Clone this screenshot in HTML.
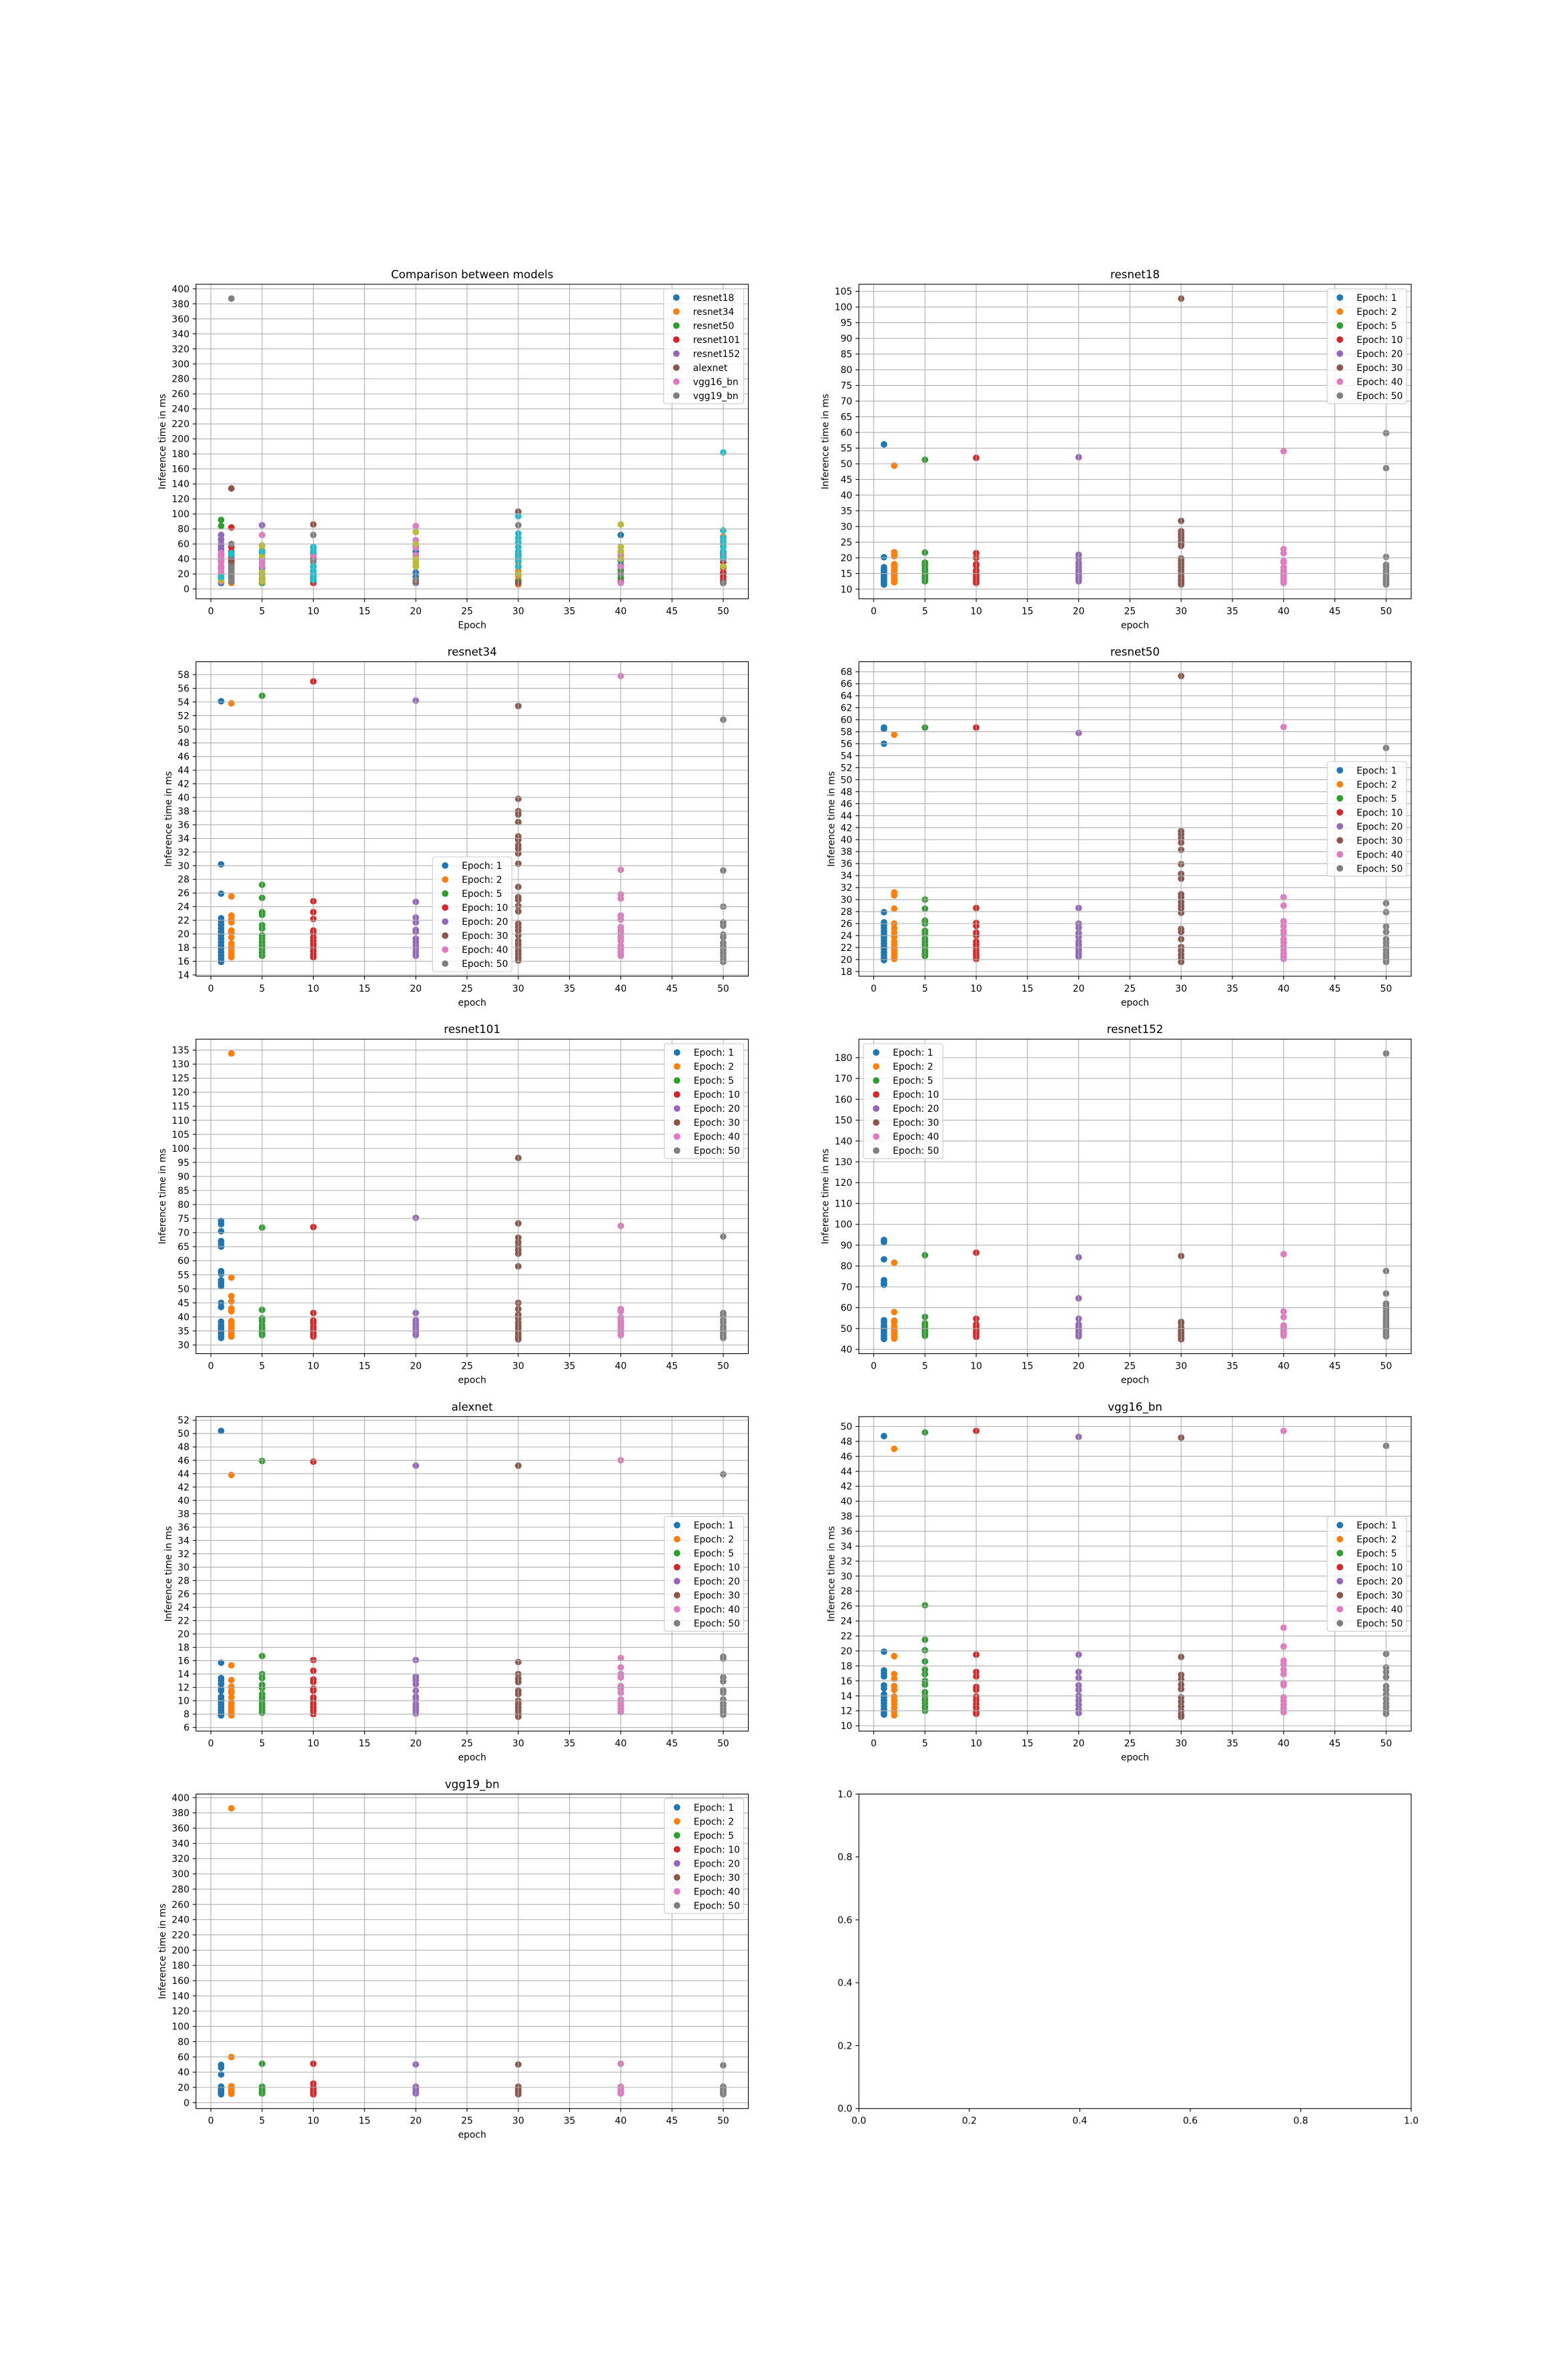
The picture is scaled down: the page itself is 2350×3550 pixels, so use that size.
<!DOCTYPE html>
<html><head><meta charset="utf-8">
<style>
html,body{margin:0;padding:0;background:#fff;}
svg{display:block;font-family:"DejaVu Sans","Liberation Sans",sans-serif;}
</style></head>
<body>
<svg id="fig" width="2350" height="3550" viewBox="0 0 2350 3550" xmlns="http://www.w3.org/2000/svg">
<rect x="0" y="0" width="2350" height="3550" fill="#fff"/>
</svg>
<script>
const epochs = [1, 2, 5, 10, 20, 30, 40, 50];
const epochLabels = ["Epoch: 1","Epoch: 2","Epoch: 5","Epoch: 10","Epoch: 20","Epoch: 30","Epoch: 40","Epoch: 50"];
const modelNames = ["resnet18","resnet34","resnet50","resnet101","resnet152","alexnet","vgg16_bn","vgg19_bn"];
const xTicks = [0,5,10,15,20,25,30,35,40,45,50];

const resnet18 = [
 [56.2,20.2,17,16.5,16,15.5,15,14.5,14,13.5,13,12.5,12,11.5],
 [49.4,21.8,21,20.5,18,17.5,17,16.5,16,15.5,15,14.5,14,13.5,13,12.5,12.2],
 [51.3,21.7,18.5,18,17.5,16.5,16,15,14.5,14,13.5,13,12.5],
 [51.9,21.5,20,18,17.5,16,15.5,14.5,14,13.5,13,12.5,12],
 [52.1,21,20,18.5,18,17,16,15.5,15,14.5,14,13.5,13,12.5],
 [102.7,31.8,28.5,27.5,26.5,25.5,24.5,23.8,19.8,19,18,17,16,15,14,13,12.5,12,11.5],
 [54,22.8,21.5,19,18.5,17,16,15.5,15,14.5,14,13.5,13,12.5,12],
 [59.8,48.6,20.3,17.8,17,16,15.5,15,14.5,14,13.5,13,12.5,12,11.5]];
const resnet18Ticks = [10,15,20,25,30,35,40,45,50,55,60,65,70,75,80,85,90,95,100,105];

const resnet34 = [
 [54.1,30.2,25.9,22.3,21.8,21.3,20.8,20.3,19.8,19.3,18.8,18.3,17.8,17.3,16.8,16.3,15.9],
 [53.8,25.5,22.7,22.2,21.7,20.5,20.2,19.5,18.6,18.1,17.6,17.1,16.6],
 [54.9,27.2,25.3,23.2,22.8,21.3,20.8,19.8,19.3,18.8,18.3,17.8,17.3,16.8],
 [57.0,24.8,23.2,22.2,20.5,20.1,19.5,19.0,18.5,18.0,17.5,17.0,16.6],
 [54.2,24.7,22.4,21.7,20.6,20.3,19.3,18.8,18.3,17.8,17.3,16.8],
 [53.4,39.8,38.0,37.5,36.4,34.3,33.8,33.0,32.5,31.8,30.3,26.9,25.4,25.0,24.1,23.3,21.5,21.0,20.5,19.8,19.0,18.5,18.0,17.5,17.0,16.5,16.1],
 [57.8,29.4,25.8,25.2,22.7,22.1,21.0,20.5,20.0,19.5,19.0,18.3,17.8,17.3,16.8],
 [51.4,29.3,24.0,21.7,21.2,19.9,19.5,18.7,18.2,17.7,17.2,16.7,16.2,15.9]];
const resnet34Ticks = [14,16,18,20,22,24,26,28,30,32,34,36,38,40,42,44,46,48,50,52,54,56,58];

const resnet50 = [
 [58.7,58.5,56.0,27.9,26.2,25.7,25.2,24.7,24.2,23.7,23.2,22.7,22.2,21.7,21.2,20.7,20.2,19.9],
 [57.5,31.2,30.7,28.5,26.0,25.2,24.5,23.8,23.0,22.5,22.0,21.5,21.0,20.5,20.1],
 [58.7,30.0,28.5,26.5,26.0,24.8,24.3,23.5,23.0,22.5,22.0,21.5,21.0,20.6],
 [58.7,28.6,26.1,25.6,24.5,24.0,23.0,22.5,22.0,21.5,21.0,20.5,20.1],
 [57.8,28.6,26.0,25.3,24.4,23.8,23.0,22.5,22.0,21.5,21.0,20.5],
 [67.3,41.4,40.9,40.2,39.5,38.3,35.9,34.3,33.5,30.9,30.4,29.6,29.0,28.5,27.8,25.1,24.6,23.4,22.1,21.5,20.8,20.2,19.6],
 [58.8,30.4,29.0,26.4,25.6,24.8,24.2,23.4,22.8,22.2,21.6,21.0,20.5,20.1],
 [55.3,29.4,27.9,25.5,24.6,23.4,22.8,22.2,21.6,21.0,20.5,20.0,19.6]];
const resnet50Ticks = [18,20,22,24,26,28,30,32,34,36,38,40,42,44,46,48,50,52,54,56,58,60,62,64,66,68];

const resnet101 = [
 [74.2,73.0,70.5,67.0,66.0,65.0,56.3,55.3,53.0,52.0,51.0,45.0,43.5,38.3,37.0,36.0,35.0,34.0,33.0,32.5],
 [133.8,54.0,47.4,45.5,43.0,42.0,38.5,37.5,36.5,35.5,34.5,33.5,33.0],
 [71.8,42.5,39.5,38.5,37.0,36.0,35.0,34.0,33.5],
 [72.0,41.4,38.7,37.8,36.5,35.5,34.5,33.5,33.0],
 [75.3,41.4,38.8,37.5,36.5,35.5,34.5,33.5],
 [96.6,73.3,68.2,66.5,65.0,63.8,62.5,58.0,45.0,42.8,40.8,39.5,38.0,37.0,36.0,35.0,34.0,33.0,32.5,32.0],
 [72.4,42.8,42.0,39.8,38.5,37.5,36.5,35.5,34.5,33.5],
 [68.6,41.4,40.5,39.0,38.0,36.5,35.5,34.5,33.5,33.0,32.5]];
const resnet101Ticks = [30,35,40,45,50,55,60,65,70,75,80,85,90,95,100,105,110,115,120,125,130,135];

const resnet152 = [
 [92.5,91.5,83.2,73.2,72.0,71.0,54.0,53.0,51.5,50.5,49.5,48.5,47.5,46.5,45.5,45.0],
 [81.6,57.9,53.8,53.0,51.0,50.0,49.0,48.0,47.0,46.0,45.2],
 [85.2,55.6,52.5,51.5,50.5,49.5,48.5,47.5,46.5],
 [86.4,54.7,52.0,51.0,50.0,49.0,48.0,47.0,46.0],
 [84.2,64.5,54.7,52.0,51.0,50.0,49.0,48.0,47.0,46.2],
 [84.8,53.2,52.5,50.5,49.5,48.5,47.5,46.5,45.5,44.8],
 [85.7,58.2,55.5,51.5,50.5,49.5,48.5,47.5,46.5],
 [182.0,77.6,66.8,62.0,61.0,59.5,58.0,56.5,55.0,54.0,53.0,52.0,51.0,50.0,49.0,48.0,47.0,46.2]];
const resnet152Ticks = [40,50,60,70,80,90,100,110,120,130,140,150,160,170,180];

const alexnet = [
 [50.4,15.7,13.4,13.0,12.5,11.8,11.5,10.6,10.2,9.8,9.4,9.0,8.6,8.2,7.8],
 [43.8,15.3,13.1,12.1,11.5,11.2,10.5,9.7,9.3,8.9,8.5,8.1,7.8],
 [45.9,16.7,14.0,13.4,12.4,11.9,11.0,10.5,10.0,9.5,9.0,8.6,8.2],
 [45.8,16.1,14.5,13.2,12.8,11.8,11.5,10.5,10.0,9.5,9.0,8.5,8.0],
 [45.2,16.1,13.6,13.1,12.5,11.5,10.6,10.2,9.5,9.0,8.5,8.1],
 [45.2,15.8,14.0,13.3,12.8,11.5,11.0,10.0,9.5,9.0,8.5,8.0,7.6],
 [46.0,16.4,15.0,14.0,13.5,12.2,11.8,11.2,10.2,9.8,9.3,8.8,8.3],
 [43.9,16.6,16.3,13.5,12.9,11.6,11.2,10.2,9.6,9.2,8.7,8.3,7.9]];
const alexnetTicks = [6,8,10,12,14,16,18,20,22,24,26,28,30,32,34,36,38,40,42,44,46,48,50,52];

const vgg16 = [
 [48.7,19.9,17.4,17.0,16.6,15.4,15.0,14.2,13.8,13.4,13.0,12.6,12.2,11.8,11.5],
 [47.0,19.3,16.9,16.3,15.3,14.8,13.9,13.4,12.9,12.4,11.9,11.4],
 [49.2,26.1,21.5,20.1,18.6,17.5,16.9,16.0,15.5,14.5,14.0,13.5,13.0,12.5,12.0],
 [49.4,19.5,17.2,16.6,15.2,14.8,13.9,13.4,12.9,12.4,11.9,11.6],
 [48.6,19.5,17.2,16.4,15.4,14.8,14.0,13.4,12.8,12.2,11.7],
 [48.5,19.2,16.8,16.2,15.5,14.9,13.8,13.2,12.6,12.0,11.5,11.2],
 [49.4,23.1,20.6,18.7,18.2,17.5,16.9,15.7,15.4,13.8,13.3,12.8,12.3,11.8],
 [47.4,19.6,17.8,17.2,16.5,15.3,14.8,14.2,13.6,13.0,12.5,12.0,11.6]];
const vgg16Ticks = [10,12,14,16,18,20,22,24,26,28,30,32,34,36,38,40,42,44,46,48,50];

const vgg19 = [
 [49.5,46.0,37.0,21.0,19.0,17.0,15.0,13.0,11.0],
 [386.0,59.8,21.5,19.0,17.0,15.0,13.0,11.5],
 [51.0,21.0,19.0,17.0,15.0,13.0,12.0],
 [51.0,25.0,20.0,18.0,16.0,14.0,12.0,11.0],
 [50.0,21.0,19.0,17.0,15.0,13.0,12.0],
 [50.0,21.0,19.0,17.0,15.0,13.0,11.0],
 [51.0,21.0,19.0,17.0,15.0,13.0,12.0],
 [49.0,21.0,19.0,17.0,15.0,13.0,11.0]];
const bigTicks = [0,20,40,60,80,100,120,140,160,180,200,220,240,260,280,300,320,340,360,380,400];

// comparison plot: [epoch, ms] pairs per series
const cmpResnet18 = [[1,8],[1,14],[1,20],[1,28],[1,36],[1,45],[2,10],[2,16],[2,22],[5,12],[5,20],[5,28],[5,48],[10,12],[10,20],[10,30],[10,40],[10,50],[20,10],[20,16],[20,22],[20,30],[20,40],[20,50],[20,57],[30,12],[30,20],[30,30],[30,40],[40,15],[40,25],[40,32],[40,38],[40,45],[40,72],[50,12],[50,20],[50,30]];
const cmpResnet34 = [[1,10],[1,18],[2,8],[2,14],[2,40],[2,46],[5,15],[10,10],[10,18],[10,50],[20,12],[30,6],[30,12],[30,18],[30,24],[30,30],[30,36],[30,44],[30,50],[40,10],[50,30],[50,36],[50,42],[50,50],[50,58],[50,64],[50,70]];
const cmpResnet50 = [[1,40],[1,46],[1,52],[1,58],[1,66],[1,72],[1,84],[1,92],[2,20],[5,8],[5,14],[5,45],[10,15],[20,45],[30,10],[40,10],[40,15],[40,20],[40,25],[40,30],[40,40],[40,50],[50,20]];
const cmpResnet101 = [[1,20],[1,30],[2,30],[2,38],[2,44],[2,50],[2,56],[2,82],[5,40],[10,8],[10,12],[10,40],[10,46],[20,40],[30,20],[30,30],[40,30],[50,10],[50,16],[50,22],[50,28],[50,36],[50,42],[50,48]];
const cmpResnet152 = [[1,30],[1,38],[1,46],[1,54],[1,60],[1,66],[1,72],[2,35],[5,45],[5,52],[5,58],[5,85],[10,45],[20,8],[20,45],[30,45],[40,45],[50,45]];
const cmpAlexnet = [[1,10],[2,28],[2,32],[2,36],[2,40],[2,134],[5,10],[10,40],[10,48],[10,55],[10,86],[20,10],[30,8],[30,40],[30,46],[30,103],[40,10],[50,8]];
const cmpVgg16 = [[1,10],[1,14],[1,18],[1,22],[1,26],[1,30],[1,36],[1,42],[1,48],[5,30],[5,35],[5,40],[5,72],[10,45],[20,45],[20,55],[20,65],[20,84],[30,40],[40,8],[40,30],[40,45],[50,40]];
const cmpVgg19 = [[1,12],[2,10],[2,14],[2,18],[2,22],[2,26],[2,30],[2,60],[2,387],[5,12],[10,30],[10,36],[10,72],[20,12],[30,30],[30,44],[30,85],[40,20],[50,8],[50,40]];
const cmpSeries9 = [[1,12],[5,10],[5,16],[5,22],[5,45],[5,52],[5,58],[10,30],[20,30],[20,35],[20,40],[20,60],[20,76],[30,20],[40,40],[40,50],[40,56],[40,86],[50,30]];
const cmpSeries10 = [[1,16],[2,46],[2,48],[5,50],[10,12],[10,18],[10,24],[10,30],[10,50],[10,56],[30,30],[30,38],[30,44],[30,50],[30,56],[30,62],[30,68],[30,74],[30,97],[50,42],[50,50],[50,56],[50,62],[50,68],[50,78],[50,182]];

const colors = ["#1f77b4","#ff7f0e","#2ca02c","#d62728","#9467bd","#8c564b","#e377c2","#7f7f7f","#bcbd22","#17becf"];
const NS = "http://www.w3.org/2000/svg";
const fig = document.getElementById("fig");
const AX_W = 827.8, AX_H = 471.3;
const colX = [293.75, 1287.2];
const rowY = [426, 991.6, 1557.2, 2122.8, 2688.4];
const FS = 13.9;

function mk(tag, attrs, parent) {
  const e = document.createElementNS(NS, tag);
  for (const k in attrs) e.setAttribute(k, attrs[k]);
  (parent || fig).appendChild(e);
  return e;
}

function drawAxes(opt) {
  const g = mk("g", {});
  
  
  const L = opt.x0, T = opt.y0, R = L + AX_W, B = T + AX_H;
  const sx = v => L + (v - opt.xmin) / (opt.xmax - opt.xmin) * AX_W;
  const sy = v => B - (v - opt.ymin) / (opt.ymax - opt.ymin) * AX_H;
  // points
  const pg = mk("g", {}, g);
  
  
  (opt.series || []).forEach(s => {
    s.pts.forEach(p => {
      const c = mk("circle", {cx: sx(p[0]).toFixed(2), cy: sy(p[1]).toFixed(2), r: 4.9, fill: s.color}, pg);
      
      
    });
  });
  // grid
  if (opt.grid) {
    const gg = mk("g", {stroke: "#b0b0b0", "stroke-width": 1.1}, g);
    
    
    opt.xticks.forEach(t => mk("line", {x1: sx(t), x2: sx(t), y1: T, y2: B}, gg));
    opt.yticks.forEach(t => mk("line", {x1: L, x2: R, y1: sy(t), y2: sy(t)}, gg));
  }
  // spines
  const sp = mk("rect", {x: L, y: T, width: AX_W, height: AX_H, fill: "none", stroke: "#000", "stroke-width": 1.1}, g);
  
  
  // ticks
  const xt = mk("g", {}, g);
  
  
  opt.xticks.forEach((t, i) => {
    mk("line", {x1: sx(t), x2: sx(t), y1: B, y2: B + 4.9, stroke: "#000", "stroke-width": 1.1}, xt);
    const tx = mk("text", {x: sx(t), y: B + 23, "font-size": FS, "text-anchor": "middle", fill: "#000"}, xt);
    tx.textContent = opt.xlabels ? opt.xlabels[i] : String(t);
  });
  const yt = mk("g", {}, g);
  
  
  let maxLen = 0;
  opt.yticks.forEach((t, i) => {
    const lab = opt.ylabels ? opt.ylabels[i] : String(t);
    maxLen = Math.max(maxLen, lab.length);
    mk("line", {x1: L - 4.9, x2: L, y1: sy(t), y2: sy(t), stroke: "#000", "stroke-width": 1.1}, yt);
    const tx = mk("text", {x: L - 9.8, y: sy(t) + 5, "font-size": FS, "text-anchor": "end", fill: "#000"}, yt);
    tx.textContent = lab;
  });
  if (opt.title) {
    const tt = mk("text", {x: L + AX_W / 2, y: T - 9, "font-size": 16.7, "text-anchor": "middle", fill: "#000"}, g);
    
    
    tt.textContent = opt.title;
  }
  if (opt.xtitle) {
    const xl = mk("text", {x: L + AX_W / 2, y: B + 44, "font-size": FS, "text-anchor": "middle", fill: "#000"}, g);
    
    
    xl.textContent = opt.xtitle;
  }
  if (opt.ytitle) {
    const yx = L - maxLen * 8.85 - 19;
    const yl = mk("text", {x: yx, y: T + AX_H / 2, "font-size": FS, "text-anchor": "middle", fill: "#000", transform: "rotate(-90 " + yx + " " + (T + AX_H / 2) + ")"}, g);
    
    
    yl.textContent = opt.ytitle;
  }
  if (opt.legend) {
    const n = opt.legend.labels.length;
    const w = opt.legend.width, h = n * 21 + 4;
    let lx, ly;
    const pos = opt.legend.loc;
    if (pos === "upper right") { lx = R - 6.9 - w; ly = T + 6.9; }
    else if (pos === "upper left") { lx = L + 6.9; ly = T + 6.9; }
    else if (pos === "center right") { lx = R - 6.9 - w; ly = T + AX_H / 2 - h / 2; }
    else { lx = L + AX_W / 2 - w / 2; ly = B - 6.9 - h; }
    const lg = mk("g", {}, g);
    
    
    mk("rect", {x: lx, y: ly, width: w, height: h, rx: 3, fill: "#fff", "fill-opacity": 0.8, stroke: "#cccccc", "stroke-width": 1.1}, lg);
    opt.legend.labels.forEach((lab, i) => {
      const cy = ly + 13 + i * 21;
      const ent = mk("g", {}, lg);
      
      
      mk("circle", {cx: lx + 19, cy: cy, r: 4.9, fill: colors[i]}, ent);
      const t = mk("text", {x: lx + 44, y: cy + 5, "font-size": FS, fill: "#000"}, ent);
      t.textContent = lab;
    });
  }
}

function autoY(values) {
  let mn = Infinity, mx = -Infinity;
  values.forEach(v => { if (v < mn) mn = v; if (v > mx) mx = v; });
  const m = (mx - mn) * 0.05;
  return [mn - m, mx + m];
}

// comparison plot
const cmpData = [cmpResnet18, cmpResnet34, cmpResnet50, cmpResnet101, cmpResnet152, cmpAlexnet, cmpVgg16, cmpVgg19, cmpSeries9, cmpSeries10];
const allCmp = [];
cmpData.forEach(s => s.forEach(p => allCmp.push(p[1])));
const cy0 = autoY(allCmp);
drawAxes({name: "comparison", x0: colX[0], y0: rowY[0], xmin: -1.45, xmax: 52.45, ymin: cy0[0], ymax: cy0[1],
  xticks: xTicks, yticks: bigTicks, grid: true, title: "Comparison between models", xtitle: "Epoch", ytitle: "Inference time in ms",
  series: cmpData.map((s, i) => ({color: colors[i], pts: s})),
  legend: {loc: "upper right", width: 120, labels: modelNames}});

const perModel = [
  {name: "resnet18", data: resnet18, ticks: resnet18Ticks, loc: "upper right"},
  {name: "resnet34", data: resnet34, ticks: resnet34Ticks, loc: "lower center"},
  {name: "resnet50", data: resnet50, ticks: resnet50Ticks, loc: "center right"},
  {name: "resnet101", data: resnet101, ticks: resnet101Ticks, loc: "upper right"},
  {name: "resnet152", data: resnet152, ticks: resnet152Ticks, loc: "upper left"},
  {name: "alexnet", data: alexnet, ticks: alexnetTicks, loc: "center right"},
  {name: "vgg16_bn", data: vgg16, ticks: vgg16Ticks, loc: "center right"},
  {name: "vgg19_bn", data: vgg19, ticks: bigTicks, loc: "upper right"}
];
perModel.forEach((m, k) => {
  const idx = k + 1;
  const col = idx % 2, row = Math.floor(idx / 2);
  const all = [];
  m.data.forEach(a => a.forEach(v => all.push(v)));
  const yl = autoY(all);
  drawAxes({name: m.name, x0: colX[col], y0: rowY[row], xmin: -1.45, xmax: 52.45, ymin: yl[0], ymax: yl[1],
    xticks: xTicks, yticks: m.ticks, grid: true, title: m.name, xtitle: "epoch", ytitle: "Inference time in ms",
    series: m.data.map((vals, i) => ({color: colors[i], pts: vals.map(v => [epochs[i], v])})),
    legend: {loc: m.loc, width: 119, labels: epochLabels}});
});

// empty axes
const emptyTicks = [0, 0.2, 0.4, 0.6, 0.8, 1.0];
const emptyLabels = ["0.0","0.2","0.4","0.6","0.8","1.0"];
drawAxes({name: "empty", x0: colX[1], y0: rowY[4], xmin: 0, xmax: 1, ymin: 0, ymax: 1,
  xticks: emptyTicks, yticks: emptyTicks, xlabels: emptyLabels, ylabels: emptyLabels, grid: false});
</script>
</body></html>
